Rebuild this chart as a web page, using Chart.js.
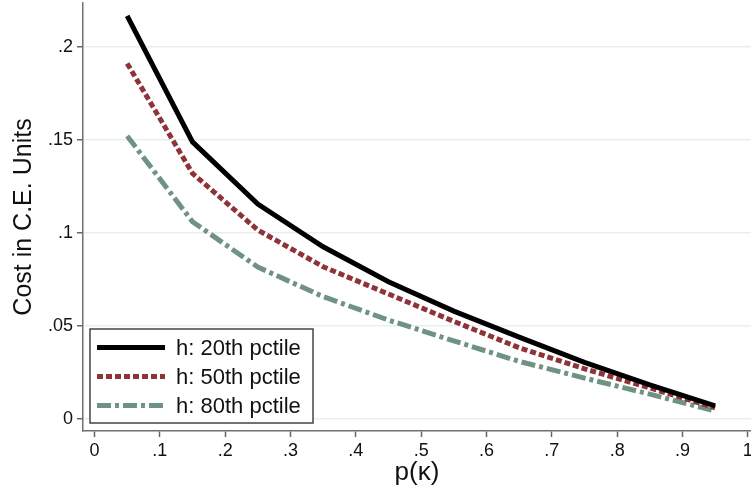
<!DOCTYPE html>
<html>
<head>
<meta charset="utf-8">
<script src="https://cdn.jsdelivr.net/npm/chart.js@4"></script>
<style>
  html, body { margin: 0; padding: 0; background: #fff; }
  #wrap { width: 751px; height: 491px; }
</style>
</head>
<body>
<div id="wrap"><canvas id="cost-chart"></canvas></div>
<script>
// values
const pKappa = [0.05, 0.15, 0.25, 0.35, 0.45, 0.55, 0.65, 0.75, 0.85, 0.95];
const cost20 = [0.2168, 0.149, 0.1156, 0.0926, 0.0738, 0.058, 0.044, 0.0305, 0.0183, 0.007];
const cost50 = [0.1912, 0.1321, 0.1016, 0.0819, 0.0672, 0.0525, 0.0383, 0.027, 0.0167, 0.006];
const cost80 = [0.1522, 0.1061, 0.0817, 0.0658, 0.0532, 0.042, 0.031, 0.022, 0.0134, 0.0043];
const seriesLabels = ["h: 20th pctile", "h: 50th pctile", "h: 80th pctile"];
const xTicks = [0, 0.1, 0.2, 0.3, 0.4, 0.5, 0.6, 0.7, 0.8, 0.9, 1];
const yTicks = [0, 0.05, 0.1, 0.15, 0.2];

const FONT = "'Liberation Sans', Arial, Helvetica, sans-serif";

// stata style labels: ".05" instead of "0.05"
const stataLabel = v => String(+v.toFixed(2)).replace(/^0\./, ".");

const toPoints = ys => ys.map((y, i) => ({ x: pKappa[i], y: y }));

const costData = {
    datasets: [{
        label: seriesLabels[0],
        data: toPoints(cost20),
        borderColor: '#000000',
        borderWidth: 5,
        borderDash: []
    }, {
        label: seriesLabels[1],
        data: toPoints(cost50),
        borderColor: '#8f3339',
        borderWidth: 5,
        borderDash: [6, 3]
    }, {
        label: seriesLabels[2],
        data: toPoints(cost80),
        borderColor: '#6f9282',
        borderWidth: 5,
        borderDash: [14, 4, 4, 4]
    }]
};

// legend box drawn inside the plot, bottom left
const boxLegend = {
    id: 'boxLegend',
    afterDraw(chart) {
        const ctx = chart.ctx;
        const area = chart.chartArea;
        const w = 223, h = 94;
        const x0 = area.left + 7;
        const y0 = area.bottom - 8 - h;
        ctx.save();
        ctx.fillStyle = '#ffffff';
        ctx.fillRect(x0, y0, w, h);
        ctx.strokeStyle = '#444444';
        ctx.lineWidth = 1.5;
        ctx.strokeRect(x0, y0, w, h);
        ctx.font = "22px " + FONT;
        ctx.textBaseline = 'middle';
        chart.data.datasets.forEach((ds, i) => {
            const yy = y0 + 18.5 + i * 29;
            ctx.beginPath();
            ctx.setLineDash(ds.borderDash);
            ctx.strokeStyle = ds.borderColor;
            ctx.lineWidth = ds.borderWidth;
            ctx.moveTo(x0 + 7, yy);
            ctx.lineTo(x0 + 75, yy);
            ctx.stroke();
            ctx.setLineDash([]);
            ctx.fillStyle = '#111111';
            ctx.fillText(ds.label, x0 + 86, yy + 1);
        });
        ctx.restore();
    }
};

const costOptions = {
    responsive: true,
    maintainAspectRatio: false,
    animation: false,
    layout: { padding: { top: 3, right: 0, bottom: 0, left: 0 } },
    elements: {
        point: { radius: 0 },
        line: { tension: 0, fill: false, borderCapStyle: 'butt' }
    },
    plugins: {
        legend: { display: false },
        tooltip: { enabled: false }
    },
    scales: {
        x: {
            type: 'linear',
            min: -0.0176,
            max: 1.0049,
            afterBuildTicks: scale => { scale.ticks = xTicks.map(v => ({ value: v })); },
            afterFit: scale => { scale.height = 60; scale.paddingLeft = 0; scale.paddingRight = 0; },
            ticks: {
                autoSkip: false,
                maxRotation: 0,
                padding: 3,
                color: '#111',
                font: { family: FONT, size: 18 },
                callback: v => stataLabel(v)
            },
            grid: { drawOnChartArea: false, tickColor: '#666', tickLength: 6, tickWidth: 1.5 },
            border: { color: '#707070', width: 1.5 },
            title: {
                display: true,
                text: 'p(κ)',
                color: '#111',
                font: { family: FONT, size: 26 },
                padding: { top: 0, bottom: 3 }
            }
        },
        y: {
            type: 'linear',
            min: -0.00645,
            max: 0.2237,
            afterBuildTicks: scale => { scale.ticks = yTicks.map(v => ({ value: v })); },
            afterFit: scale => { scale.width = 83; scale.paddingTop = 0; scale.paddingBottom = 0; },
            ticks: {
                autoSkip: false,
                padding: 4,
                color: '#111',
                font: { family: FONT, size: 18 },
                callback: v => stataLabel(v)
            },
            grid: { color: '#e6eff1', lineWidth: 1.5, tickColor: '#666', tickLength: 6, tickWidth: 1.5 },
            border: { color: '#707070', width: 1.5 },
            title: {
                display: true,
                text: 'Cost in C.E. Units',
                color: '#111',
                font: { family: FONT, size: 25 },
                padding: { top: 9, bottom: 0 }
            }
        }
    }
};

const costChart = new Chart(document.getElementById('cost-chart'), {
    type: 'line',
    data: costData,
    options: costOptions,
    plugins: [boxLegend]
});
</script>
</body>
</html>
